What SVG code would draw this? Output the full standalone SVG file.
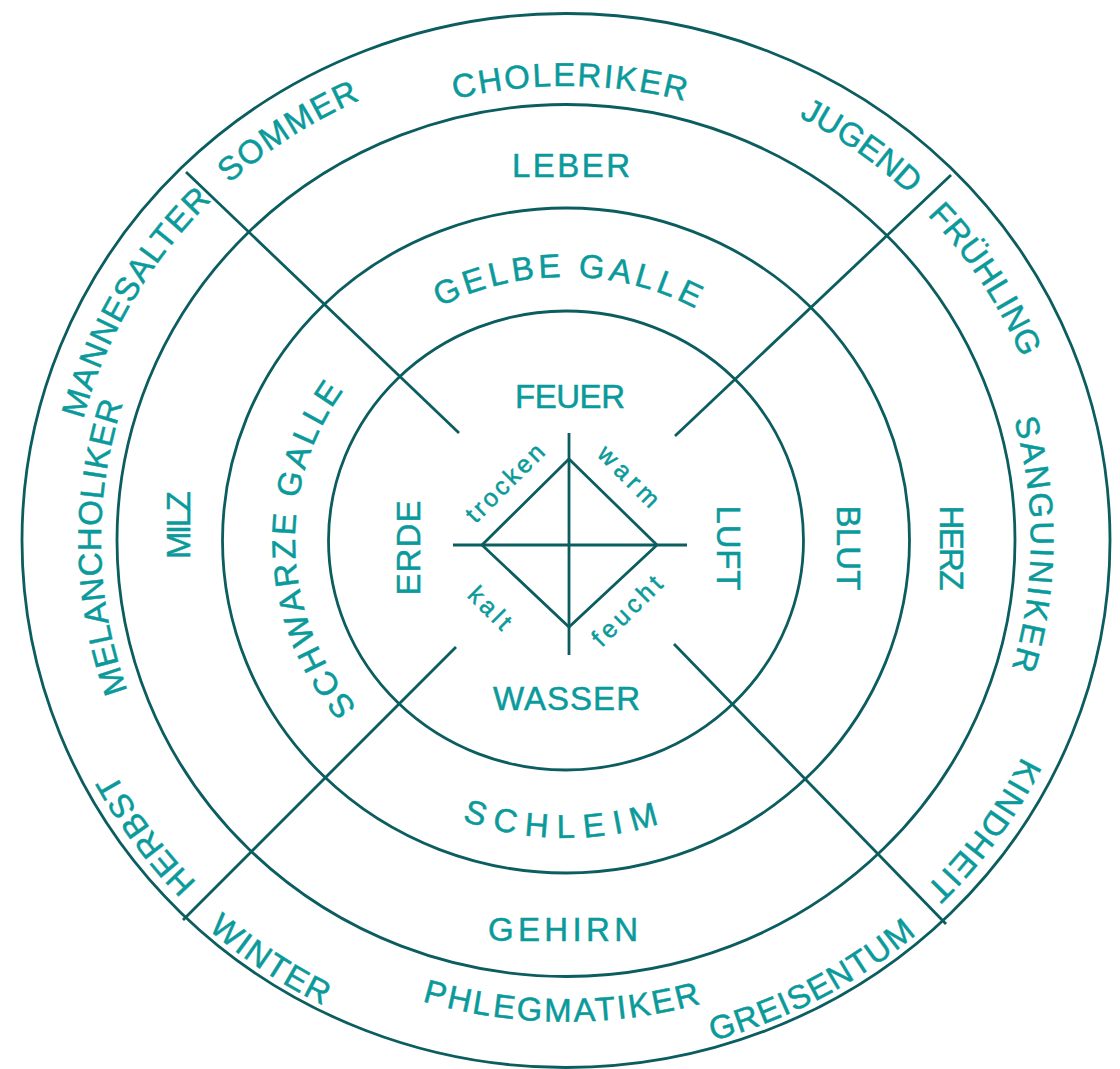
<svg xmlns="http://www.w3.org/2000/svg" width="1120" height="1069" viewBox="0 0 1120 1069">
<style>
.ln{fill:none;stroke:#0b5d5f;stroke-width:2.8}
.t{font-family:"Liberation Sans",Arial,sans-serif;font-size:33px;fill:#0a9a9b;stroke:#0a9a9b;stroke-width:0.5}
.s{font-family:"Liberation Sans",Arial,sans-serif;font-size:25px;fill:#0a9a9b;stroke:#0a9a9b;stroke-width:0.5}
</style>
<defs>
<path id="pChol" d="M105.9,456.9 A468.1,454.5 0 0 1 1027.8,466.3"/>
<path id="pSom" d="M110.5,737.9 A499,483.5 0 0 1 924.3,204"/>
<path id="pMan" d="M252.3,915.9 A498.5,483 0 0 1 728.3,83.8"/>
<path id="pJug" d="M226.9,190.6 A495.4,480 0 0 1 1008.2,756.9"/>
<path id="pFru" d="M382,97 A493.3,478 0 0 1 895.4,896.3"/>
<path id="pSan" d="M651.5,97.2 A465,451 0 0 1 641.9,985.4"/>
<path id="pKin" d="M923.7,191.4 A507.7,492 0 0 1 353,987.1"/>
<path id="pGre" d="M149.6,868.5 A536.6,520 0 0 0 1073.1,370.3"/>
<path id="pPhl" d="M76.1,620.8 A496.9,481.5 0 0 0 1054.7,627.4"/>
<path id="pWin" d="M78.7,320.3 A537.7,521 0 0 0 946.2,908.9"/>
<path id="pHer" d="M781.9,989.1 A510.8,495 0 0 1 204.8,190.5"/>
<path id="pMel" d="M491.7,985.7 A465,451 0 0 1 478.9,97.5"/>
<path id="pGel" d="M298.4,491.1 A272.4,263.5 0 0 1 834.9,498.4"/>
<path id="pSchl" d="M263,591.1 A307.5,297.5 0 0 0 868.6,593.2"/>
<path id="pSchw" d="M528.3,800.2 A271,262.3 0 0 1 509.7,283.9"/>
</defs>
<rect width="1120" height="1069" fill="#ffffff"/>
<g id="rings" class="ln">
<ellipse cx="566" cy="540.5" rx="544" ry="527"/>
<ellipse cx="566" cy="540.5" rx="449" ry="436"/>
<ellipse cx="566" cy="540.5" rx="343.5" ry="332.5"/>
<ellipse cx="566" cy="540.5" rx="237.5" ry="229.5"/>
</g>
<g id="connectors" class="ln">
<line x1="459" y1="433" x2="186" y2="172"/>
<line x1="675" y1="436" x2="951" y2="175"/>
<line x1="456" y1="647" x2="183" y2="920"/>
<line x1="674" y1="644" x2="946" y2="924"/>
<line x1="453" y1="545" x2="687" y2="545"/>
<line x1="569" y1="433" x2="569" y2="655"/>
<path d="M569,459 L657,545 L569,627 L482,545 Z" stroke-linejoin="miter"/>
</g>
<g id="outer-ring">
<text class="t" text-anchor="middle" letter-spacing="2"><textPath href="#pChol" startOffset="50%">CHOLERIKER</textPath></text>
<text class="t" text-anchor="middle" letter-spacing="1.5"><textPath href="#pSom" startOffset="50%">SOMMER</textPath></text>
<text class="t" text-anchor="middle" letter-spacing="1.2"><textPath href="#pMan" startOffset="50%">MANNESALTER</textPath></text>
<text class="t" text-anchor="middle" letter-spacing="0"><textPath href="#pJug" startOffset="50%">JUGEND</textPath></text>
<text class="t" text-anchor="middle" letter-spacing="0.5"><textPath href="#pFru" startOffset="50%">FRÜHLING</textPath></text>
<text class="t" text-anchor="middle" letter-spacing="2.5"><textPath href="#pSan" startOffset="50%">SANGUINIKER</textPath></text>
<text class="t" text-anchor="middle" letter-spacing="1.5"><textPath href="#pKin" startOffset="50%">KINDHEIT</textPath></text>
<text class="t" text-anchor="middle" letter-spacing="1.3"><textPath href="#pGre" startOffset="50%">GREISENTUM</textPath></text>
<text class="t" text-anchor="middle" letter-spacing="2.4"><textPath href="#pPhl" startOffset="50%">PHLEGMATIKER</textPath></text>
<text class="t" text-anchor="middle" letter-spacing="1.7"><textPath href="#pWin" startOffset="50%">WINTER</textPath></text>
<text class="t" text-anchor="middle" letter-spacing="0.8"><textPath href="#pHer" startOffset="50%">HERBST</textPath></text>
<text class="t" text-anchor="middle" letter-spacing="0.9"><textPath href="#pMel" startOffset="50%">MELANCHOLIKER</textPath></text>
</g>
<g id="organ-ring">
<text class="t" x="571" y="177" text-anchor="middle" textLength="118" lengthAdjust="spacing">LEBER</text>
<text class="t" x="563" y="941" text-anchor="middle" textLength="150" lengthAdjust="spacing">GEHIRN</text>
<text class="t" text-anchor="middle" textLength="85" lengthAdjust="spacing" transform="translate(940,548) rotate(90)">HERZ</text>
<text class="t" text-anchor="middle" textLength="68" lengthAdjust="spacing" transform="translate(190,525) rotate(-90)">MILZ</text>
</g>
<g id="humour-ring">
<text class="t" text-anchor="middle" letter-spacing="4"><textPath href="#pGel" startOffset="50%">GELBE GALLE</textPath></text>
<text class="t" text-anchor="middle" letter-spacing="9"><textPath href="#pSchl" startOffset="50%">SCHLEIM</textPath></text>
<text class="t" text-anchor="middle" letter-spacing="3"><textPath href="#pSchw" startOffset="50%">SCHWARZE GALLE</textPath></text>
<text class="t" text-anchor="middle" textLength="85" lengthAdjust="spacing" transform="translate(837,548) rotate(90)">BLUT</text>
</g>
<g id="elements">
<text class="t" x="570" y="408" text-anchor="middle" textLength="110" lengthAdjust="spacing">FEUER</text>
<text class="t" x="566.5" y="710" text-anchor="middle" textLength="147" lengthAdjust="spacing">WASSER</text>
<text class="t" text-anchor="middle" textLength="85" lengthAdjust="spacing" transform="translate(717,548) rotate(90)">LUFT</text>
<text class="t" text-anchor="middle" textLength="95" lengthAdjust="spacing" transform="translate(420,548) rotate(-90)">ERDE</text>
</g>
<g id="qualities">
<text class="s" y="7" text-anchor="middle" textLength="100" lengthAdjust="spacing" transform="translate(506,484) rotate(-45)">trocken</text>
<text class="s" y="6" text-anchor="middle" textLength="76" lengthAdjust="spacing" transform="translate(627,478) rotate(45)">warm</text>
<text class="s" y="7" text-anchor="middle" textLength="50" lengthAdjust="spacing" transform="translate(489,609) rotate(45)">kalt</text>
<text class="s" y="7" text-anchor="middle" textLength="88" lengthAdjust="spacing" transform="translate(628,612) rotate(-45)">feucht</text>
</g>
</svg>
